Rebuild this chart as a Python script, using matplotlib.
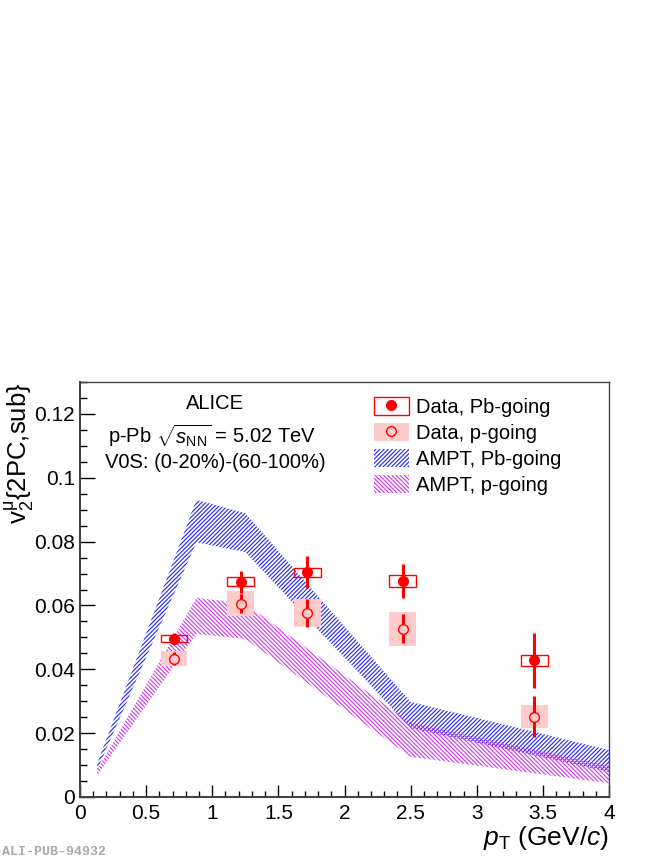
import matplotlib
matplotlib.use("Agg")
import matplotlib.pyplot as plt
from matplotlib.patches import Rectangle
from matplotlib.lines import Line2D
from matplotlib.ticker import MultipleLocator

plt.rcParams['font.family'] = ['Liberation Sans', 'DejaVu Sans']
plt.rcParams['mathtext.fontset'] = 'custom'
plt.rcParams['mathtext.rm'] = 'Liberation Sans'
plt.rcParams['mathtext.it'] = 'Liberation Sans:italic'
plt.rcParams['hatch.linewidth'] = 0.8

# --- data ---
pt = [0.71, 1.215, 1.72, 2.44, 3.435]
pt_halfwidth = [0.1, 0.1, 0.1, 0.1, 0.1]

pb_v2 = [0.0496, 0.0674, 0.0704, 0.0676, 0.0428]
pb_stat = [0.0017, 0.0035, 0.0050, 0.0054, 0.0086]
pb_sys = [0.0012, 0.0014, 0.0014, 0.0018, 0.0018]

p_v2 = [0.0433, 0.0606, 0.0576, 0.0527, 0.0252]
p_stat = [0.0020, 0.0030, 0.0045, 0.0046, 0.0064]
p_sys = [0.0024, 0.0039, 0.0044, 0.0053, 0.0035]

ampt_x = [0.13, 0.88, 1.25, 2.5, 4.0]
ampt_pb_hi = [0.0105, 0.0931, 0.0889, 0.0298, 0.0147]
ampt_pb_lo = [0.0085, 0.0798, 0.0767, 0.0216, 0.0079]
ampt_p_hi = [0.0085, 0.0624, 0.0605, 0.0232, 0.0097]
ampt_p_lo = [0.0068, 0.0511, 0.0495, 0.0126, 0.0043]

RED = '#ff0000'
PINK = '#ffcaca'
BLUE = '#2020ff'
MAG = '#cc33ee'
HB = '////////'
HP = '\\\\\\\\\\\\\\\\'

fig = plt.figure(figsize=(6.64, 8.6), dpi=100)
ax = fig.add_axes([80/664, 1-797/860, 529/664, 415/860])

# model bands
ax.fill_between(ampt_x, ampt_pb_lo, ampt_pb_hi, facecolor='none', edgecolor=BLUE,
                hatch=HB, linewidth=0, zorder=1)
ax.fill_between(ampt_x, ampt_p_lo, ampt_p_hi, facecolor='none', edgecolor=MAG,
                hatch=HP, linewidth=0, zorder=1)

# systematic boxes
for x, w, y, s in zip(pt, pt_halfwidth, p_v2, p_sys):
    ax.add_patch(Rectangle((x-w, y-s), 2*w, 2*s, facecolor=PINK, edgecolor='none', zorder=2))
for x, w, y, s in zip(pt, pt_halfwidth, pb_v2, pb_sys):
    ax.add_patch(Rectangle((x-w, y-s), 2*w, 2*s, facecolor='none', edgecolor=RED, lw=1.0, zorder=3))

# stat errors + markers
ax.errorbar(pt, p_v2, yerr=p_stat, fmt='none', ecolor=RED, elinewidth=2.2, zorder=4)
ax.errorbar(pt, pb_v2, yerr=pb_stat, fmt='none', ecolor=RED, elinewidth=2.2, zorder=4)
ax.plot(pt, p_v2, 'o', ms=7, mfc=PINK, mec=RED, mew=1.0, ls='none', zorder=5)
ax.plot(pt, pb_v2, 'o', ms=7, mfc=RED, mec=RED, ls='none', zorder=5)

ax.set_xlim(0, 4)
ax.set_ylim(0, 0.13)
ax.xaxis.set_major_locator(MultipleLocator(0.5))
ax.xaxis.set_minor_locator(MultipleLocator(0.1))
ax.yaxis.set_major_locator(MultipleLocator(0.02))
ax.yaxis.set_minor_locator(MultipleLocator(0.005))
ax.xaxis.set_major_formatter(plt.FuncFormatter(lambda v, p: f"{v:g}"))
ax.yaxis.set_major_formatter(plt.FuncFormatter(lambda v, p: f"{v:g}"))
ax.tick_params(axis='x', which='major', direction='in', length=8.4, width=1, labelsize=15, pad=5)
ax.tick_params(axis='x', which='minor', direction='in', length=4.3, width=1)
ax.tick_params(axis='y', which='major', direction='in', length=10.8, width=1, labelsize=15, pad=3.5)
ax.tick_params(axis='y', which='minor', direction='in', length=5, width=1)
for side in ['left', 'bottom']:
    ax.spines[side].set_linewidth(1.5)
    ax.spines[side].set_color('#444444')
for side in ['right', 'top']:
    ax.spines[side].set_linewidth(1.0)
    ax.spines[side].set_color('#444444')

ax.set_xlabel(r'$p_{\mathrm{T}}$ (GeV/$c$)', fontsize=19, loc='right', labelpad=1)
ax.set_ylabel(r'v$_{2}^{\mathrm{μ}}${2PC,sub}', fontsize=18.5, loc='top')
ax.yaxis.set_label_coords(-0.083, 1.0)

ax.text(0.255, 0.949, 'ALICE', transform=ax.transAxes, ha='center', va='center', fontsize=14.5)
ax.text(0.25, 0.872, r'p-Pb $\sqrt{s_{\mathrm{NN}}}$ = 5.02 TeV', transform=ax.transAxes,
        ha='center', va='center', fontsize=14.5)
ax.text(0.255, 0.807, 'V0S: (0-20%)-(60-100%)', transform=ax.transAxes, ha='center',
        va='center', fontsize=14.5)

# legend
h_pb = (Rectangle((0, 0), 1, 1, facecolor='none', edgecolor=RED, lw=1.0),
        Line2D([], [], marker='o', ms=7, color=RED, ls='none'))
h_p = (Rectangle((0, 0), 1, 1, facecolor=PINK, edgecolor='none'),
       Line2D([], [], marker='o', ms=7, mfc=PINK, mec=RED, ls='none'))
h_apb = Rectangle((0, 0), 1, 1, facecolor='none', edgecolor=BLUE, hatch=HB, lw=0)
h_ap = Rectangle((0, 0), 1, 1, facecolor='none', edgecolor=MAG, hatch=HP, lw=0)
ax.legend([h_pb, h_p, h_apb, h_ap],
          ['Data, Pb-going', 'Data, p-going', 'AMPT, Pb-going', 'AMPT, p-going'],
          loc='upper left', bbox_to_anchor=(0.555, 0.963), frameon=False, fontsize=14.5,
          handlelength=1.75, handleheight=1.0, handletextpad=0.35, labelspacing=0.3,
          borderpad=0, borderaxespad=0)

fig.text(0.003, 1-852/860, 'ALI-PUB-94932', fontsize=9.5, color='#aaaaaa',
         family='Liberation Mono', fontweight='bold', va='center')

fig.savefig('out.png', dpi=100)
